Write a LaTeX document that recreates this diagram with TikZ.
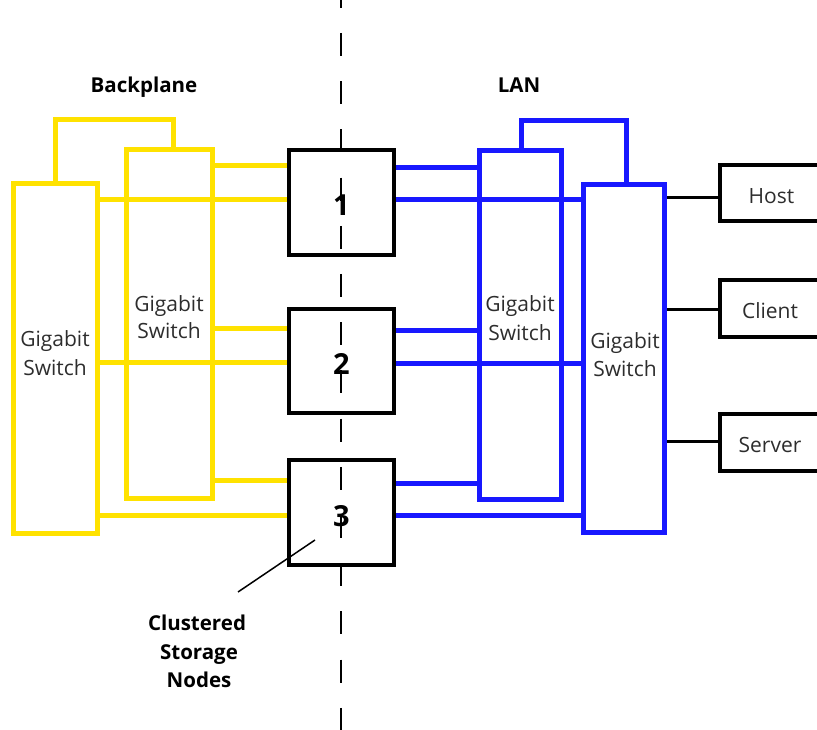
\documentclass[tikz,border=0pt]{standalone}
\usepackage{fontspec}
\setmainfont{Open Sans}
\definecolor{ylw}{RGB}{255,226,0}
\definecolor{blu}{RGB}{24,24,255}
\definecolor{txt}{RGB}{45,45,45}
\begin{document}
\begin{tikzpicture}[x=1pt,y=-1pt,
  ysw/.style={draw=ylw,line width=5pt,inner sep=0pt},
  bsw/.style={draw=blu,line width=5pt,inner sep=0pt},
  ywire/.style={draw=ylw,line width=5pt},
  bwire/.style={draw=blu,line width=5pt},
  kwire/.style={draw=black,line width=3pt},
  snode/.style={draw=black,line width=4pt,inner sep=0pt,minimum width=105pt,minimum height=105pt,
    font=\fontsize{29}{31}\selectfont\bfseries,text height=27pt,text depth=0pt},
  hbox/.style={draw=black,line width=4pt,inner sep=0pt,minimum width=104pt,minimum height=56pt},
  lbl/.style={font=\fontsize{21}{24}\selectfont,text=txt,inner sep=0pt,anchor=base},
  blbl/.style={font=\fontsize{20.5}{24}\selectfont\bfseries,text=black,inner sep=0pt,anchor=base},
  divider/.style={draw=black,line width=2pt,dash pattern=on 23pt off 25.2pt}
]
\clip (0,0) rectangle (817,730);
% switches
\node[ysw,minimum width=83.5pt,minimum height=350pt] (ysA) at (55.25,358.5) {};
\node[ysw,minimum width=86pt,minimum height=348.5pt] (ysB) at (169,323.75) {};
\node[bsw,minimum width=82pt,minimum height=349pt] (bsA) at (520.5,325) {};
\node[bsw,minimum width=81pt,minimum height=348pt] (bsB) at (624,358.5) {};
% storage nodes
\node[snode] (n1) at (341.5,202.5) {1};
\node[snode,minimum height=104pt] (n2) at (341.5,361) {2};
\node[snode] (n3) at (341.5,512.5) {3};
% end devices
\node[hbox] (host) at (771.5,193.5) {};
\node[hbox,minimum height=56.5pt] (client) at (771.5,308.75) {};
\node[hbox,minimum height=56.5pt] (server) at (771.5,442.25) {};
% y levels
\path (0,166) coordinate (ya1) (0,200) coordinate (yb1)
      (0,328) coordinate (ya2) (0,362) coordinate (yb2)
      (0,480) coordinate (ya3) (0,515) coordinate (yb3)
      (0,168) coordinate (ba1) (0,200) coordinate (bb1)
      (0,330) coordinate (ba2) (0,363) coordinate (bb2)
      (0,483) coordinate (ba3) (0,515) coordinate (bb3)
      (0,198) coordinate (kh) (0,309) coordinate (kc) (0,441) coordinate (ks);
% loops
\coordinate (ytop) at (173.5,119.5);
\draw[ywire] (ysA.north) |- (ytop) -- (ytop |- ysB.north);
\coordinate (btop) at (626.5,120.5);
\coordinate (bstart) at (521.5,0);
\draw[bwire] (bstart |- bsA.north) |- (btop) -- (btop |- bsB.north);
% yellow wires
\draw[ywire] (ysB.east |- ya1) -- (n1.west |- ya1);
\draw[ywire] (ysA.east |- yb1) -- (n1.west |- yb1);
\draw[ywire] (ysB.east |- ya2) -- (n2.west |- ya2);
\draw[ywire] (ysA.east |- yb2) -- (n2.west |- yb2);
\draw[ywire] (ysB.east |- ya3) -- (n3.west |- ya3);
\draw[ywire] (ysA.east |- yb3) -- (n3.west |- yb3);
% blue wires
\draw[bwire] (n1.east |- ba1) -- (bsA.west |- ba1);
\draw[bwire] (n1.east |- bb1) -- (bsB.west |- bb1);
\draw[bwire] (n2.east |- ba2) -- (bsA.west |- ba2);
\draw[bwire] (n2.east |- bb2) -- (bsB.west |- bb2);
\draw[bwire] (n3.east |- ba3) -- (bsA.west |- ba3);
\draw[bwire] (n3.east |- bb3) -- (bsB.west |- bb3);
% black wires
\draw[kwire] (bsB.east |- kh) -- (host.west |- kh);
\draw[kwire] (bsB.east |- kc) -- (client.west |- kc);
\draw[kwire] (bsB.east |- ks) -- (server.west |- ks);
% labels
\node[lbl] (ga1) at (55,346) {Gigabit};
\node[lbl] (ga2) at (55,375) {Switch};
\node[lbl] (gb1) at (169,311) {Gigabit};
\node[lbl] (gb2) at (169,338) {Switch};
\node[lbl] (gc1) at (520,312) {Gigabit};
\node[lbl] (gc2) at (520,340) {Switch};
\node[lbl] (gd1) at (625,348) {Gigabit};
\node[lbl] (gd2) at (625,376) {Switch};
\node[lbl] (hostT) at (771.5,204) {Host};
\node[lbl] (clientT) at (770,318) {Client};
\node[lbl] (serverT) at (770,452) {Server};
\node[blbl] (bp) at (144,93) {Backplane};
\node[blbl] (lan) at (519,93) {LAN};
\node[blbl] (cs1) at (197,630) {Clustered};
\node[blbl] (cs2) at (199,659) {Storage};
\node[blbl] (cs3) at (199,687) {Nodes};
% annotation
\coordinate (ann) at (315,540);
\coordinate (annE) at (238,592);
\draw[line width=1.5pt] (ann) -- (annE);
% divider
\coordinate (dtop) at (341,-15.2);
\coordinate (dbot) at (341,745);
\draw[divider] (dtop) -- (dbot);
\end{tikzpicture}
\end{document}
